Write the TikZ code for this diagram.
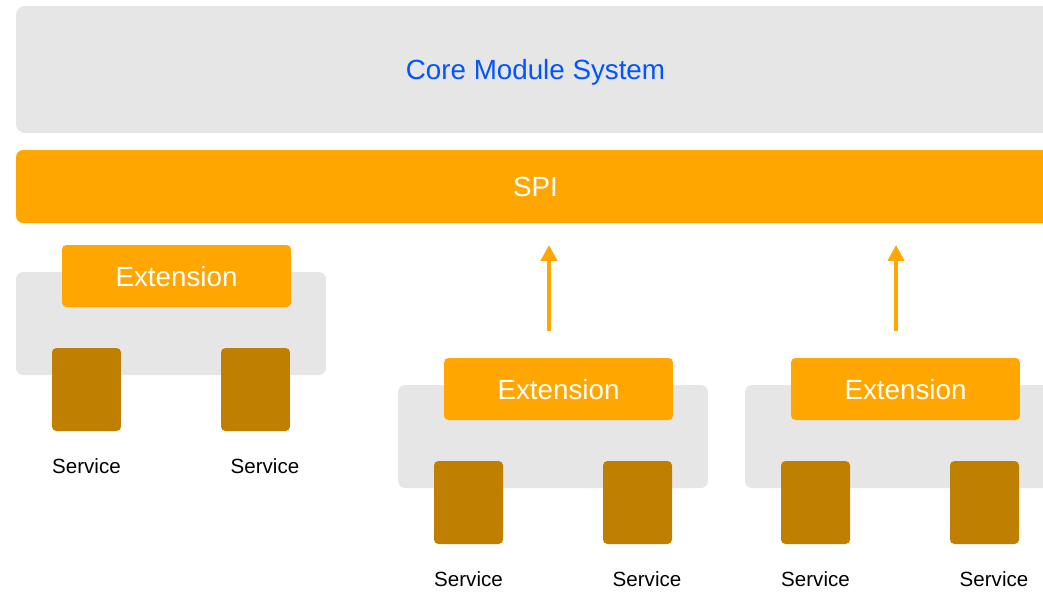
\documentclass[tikz,border=0pt]{standalone}
\usepackage{fontspec}
\setmainfont{Liberation Sans}
\usepackage{tikz}
\usetikzlibrary{arrows.meta,positioning,calc}
\definecolor{mygray}{RGB}{230,230,230}
\definecolor{myorange}{RGB}{255,166,0}
\definecolor{mybrown}{RGB}{191,127,0}
\definecolor{myblue}{RGB}{0,85,255}

\begin{document}
\begin{tikzpicture}[x=0.02cm,y=-0.02cm,
    every node/.style={inner sep=0pt,outer sep=0pt},
    bigfont/.style={font=\fontsize{15.8}{18}\selectfont,text depth=0pt},
    graybox/.style={fill=mygray,rounded corners=4pt},
    extbox/.style={fill=myorange,rounded corners=2.5pt,text=white,bigfont,
      minimum width=4.58cm,minimum height=1.24cm},
    svcbox/.style={fill=mybrown,rounded corners=2.5pt,
      minimum width=1.38cm,minimum height=1.66cm},
    svclabel/.style={font=\fontsize{11.7}{14}\selectfont,anchor=base},
    uparrow/.style={myorange,line width=0.085cm,
      -{Triangle[length=0.32cm,width=0.32cm]}}]
  \clip (0,0) rectangle (1043,593);
  \useasboundingbox (0,0) rectangle (1043,593);

  \node[graybox,rounded corners=5pt,minimum width=20.78cm,minimum height=2.54cm,
        text=myblue,bigfont] (core) at (535.5,69.5) {Core Module System};
  \node[fill=myorange,rounded corners=4pt,minimum width=20.78cm,minimum height=1.46cm,
        text=white,bigfont] (spi) at (535.5,186.5) {SPI};

  \foreach \i/\dx/\dy in {1/0/0,2/382/113,3/729/113}{
    \node[graybox,minimum width=6.2cm,minimum height=2.06cm]
      (g\i) at (171+\dx,323.5+\dy) {};
    \node[extbox] (e\i) at (176.5+\dx,276+\dy) {Extension};
    \node[svcbox] (s\i a) at (86.5+\dx,389.5+\dy) {};
    \node[svcbox] (s\i b) at (255.5+\dx,389.5+\dy) {};
    \node[svclabel] (l\i a) at ([yshift=-0.84cm]s\i a.south) {Service};
    \node[svclabel] (l\i b) at ([xshift=0.19cm,yshift=-0.84cm]s\i b.south) {Service};
  }

  \foreach \i in {2,3}{
    \draw[uparrow,shorten <=0.54cm,shorten >=0.44cm]
      ([xshift=-0.19cm]e\i.north) -- ([xshift=-0.19cm]e\i.north |- spi.south);
  }
\end{tikzpicture}
\end{document}
